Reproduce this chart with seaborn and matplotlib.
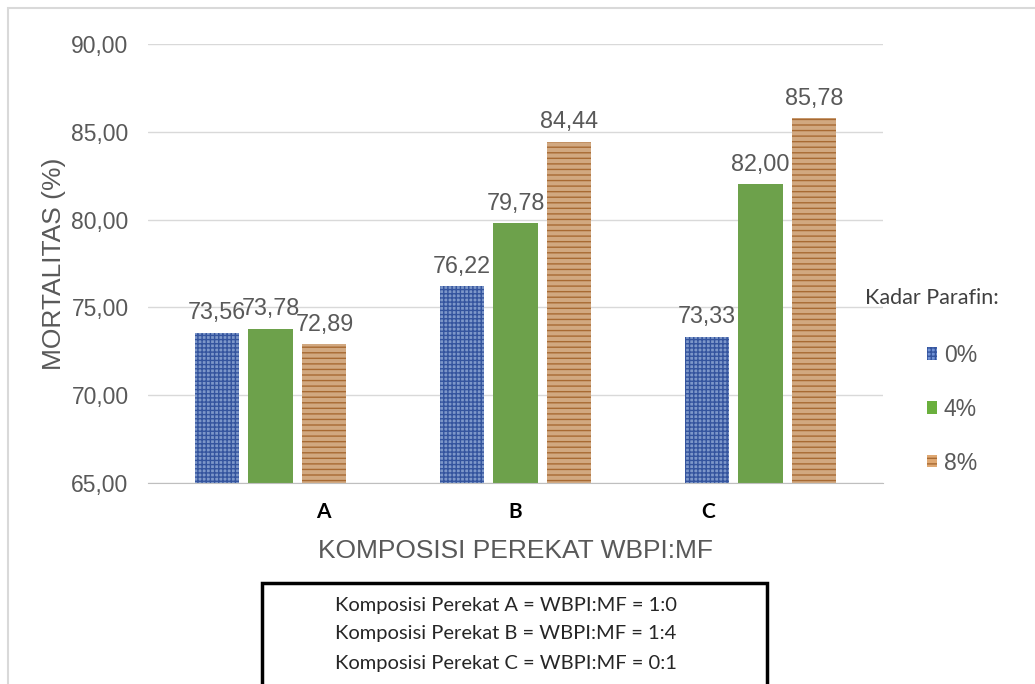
import matplotlib
matplotlib.use("Agg")
import matplotlib.pyplot as plt
import matplotlib.patches as mpatches
import pandas as pd
import seaborn as sns

# data
komposisi = ["A", "B", "C"]
kadar = ["0%", "4%", "8%"]
mort_0 = [73.56, 76.22, 73.33]
mort_4 = [73.78, 79.78, 82.00]
mort_8 = [72.89, 84.44, 85.78]
keterangan = ["Komposisi Perekat A = WBPI:MF = 1:0",
              "Komposisi Perekat B = WBPI:MF = 1:4",
              "Komposisi Perekat C = WBPI:MF = 0:1"]

df = pd.DataFrame({
    "komposisi": komposisi * 3,
    "kadar": [k for k in kadar for _ in komposisi],
    "mortalitas": mort_0 + mort_4 + mort_8,
})

sns.set_style("white")
plt.rcParams["font.family"] = ["Liberation Sans", "DejaVu Sans"]
grey = "#595959"

fill = {"0%": "#7193D5", "4%": "#6AAF3D", "8%": "#DFA872"}
hatch_col = {"0%": "#34549E", "4%": "#6AAF3D", "8%": "#A86A33"}
hatch = {"0%": "++++", "4%": "", "8%": "---"}

fig = plt.figure(figsize=(10.35, 6.84), dpi=100)
ax = fig.add_axes([148 / 1035, 1 - 483 / 684, 735 / 1035, 439 / 684])

sns.barplot(data=df, x="komposisi", y="mortalitas", hue="kadar",
            palette=fill, width=0.66, gap=0.18, ax=ax, legend=False)

for cont, k in zip(ax.containers, kadar):
    for bar in cont:
        bar.set_hatch(hatch[k])
        bar.set_edgecolor(hatch_col[k])
        bar.set_linewidth(0)
    ax.bar_label(cont, labels=[f"{v:.2f}".replace(".", ",") for v in cont.datavalues],
                 padding=6, fontsize=16.8, color=grey)

ax.set_ylim(65, 90)
ax.set_xlim(-0.5, 2.5)
ax.set_yticks([65, 70, 75, 80, 85, 90])
ax.set_yticklabels([f"{v:.2f}".replace(".", ",") for v in [65, 70, 75, 80, 85, 90]],
                   fontsize=16.5, color=grey)
ax.tick_params(axis="y", length=0, pad=14)
ax.yaxis.grid(True, color="#D9D9D9", linewidth=1)
ax.set_axisbelow(True)
for s in ["top", "right", "left"]:
    ax.spines[s].set_visible(False)
ax.spines["bottom"].set_color("#BFBFBF")

# category letters sit off-centre in the original
ax.set_xticks([0.214, 1.0, 1.786])
ax.set_xticklabels(komposisi, fontsize=15, fontweight="bold", color="black",
                   family=["Lato", "DejaVu Sans"])
ax.tick_params(axis="x", length=0, pad=14)

ax.set_ylabel("MORTALITAS (%)", fontsize=19, color=grey, labelpad=4)
ax.set_xlabel("KOMPOSISI PEREKAT WBPI:MF", fontsize=19, color=grey, labelpad=12)

# legend
handles = [mpatches.Patch(facecolor=fill[k], edgecolor=hatch_col[k], hatch=hatch[k],
                          linewidth=0) for k in kadar]
fig.text(865 / 1035, 1 - 298 / 684, "Kadar Parafin:", fontsize=15.5, color="#404040",
         family=["Lato", "DejaVu Sans"], va="center", ha="left")
fig.legend(handles, kadar, loc="upper left", bbox_to_anchor=(906 / 1035, 1 - 323 / 684),
           frameon=False, fontsize=16.5, labelcolor=grey, handlelength=0.45,
           handleheight=0.45, handletextpad=0.3, labelspacing=1.35)

# outer frame
fig.patches.append(mpatches.Rectangle((8 / 1035, -0.1), 1.1, 1.1 - 8 / 684,
                                      transform=fig.transFigure, fill=False,
                                      edgecolor="#D9D9D9", linewidth=1.5))

# note box
fig.patches.append(mpatches.Rectangle((262 / 1035, -0.05), 505 / 1035, 0.05 + 1 - 583 / 684,
                                      transform=fig.transFigure, fill=False,
                                      edgecolor="black", linewidth=2.5))
for i, line in enumerate(keterangan):
    fig.text(506 / 1035, 1 - (605 + 29 * i) / 684, line, fontsize=14.5, color="#262626",
             family=["Lato", "DejaVu Sans"], ha="center", va="center")

fig.savefig("out.png", dpi=100)
